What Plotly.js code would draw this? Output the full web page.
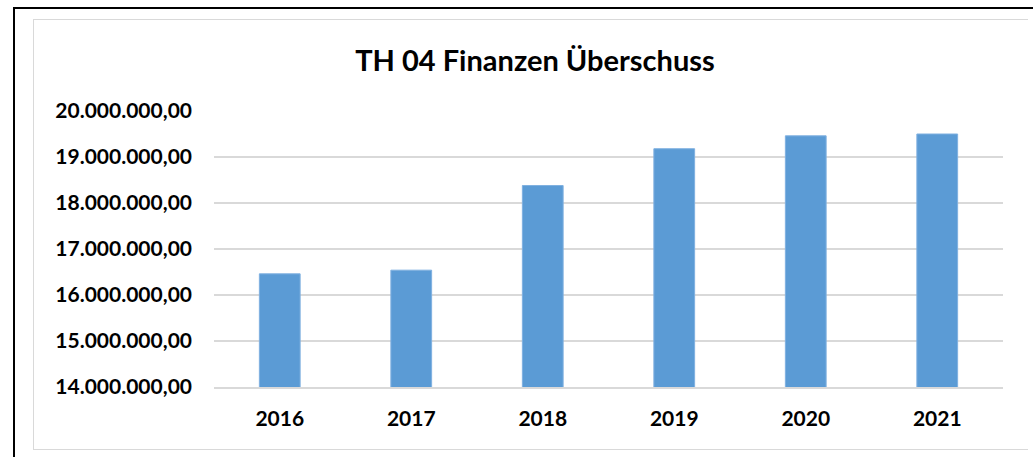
<!DOCTYPE html>
<html>
<head>
<meta charset="utf-8">
<script src="https://cdn.plot.ly/plotly-3.0.1.min.js"></script>
<style>
  html, body { margin: 0; padding: 0; background: #ffffff; }
  #wrap { position: relative; width: 1033px; height: 457px; overflow: hidden; background: #ffffff; }
  #outer { position: absolute; left: 13px; top: 7px; width: 1100px; height: 500px;
           border-left: 2.5px solid #000; border-top: 2.5px solid #000; box-sizing: border-box; }
  #inner { position: absolute; left: 33px; top: 18.5px; width: 995px; height: 431.5px;
           border-left: 1.5px solid #d9d9d9; border-top: 1.5px solid #d9d9d9; border-bottom: 1.5px solid #d9d9d9;
           box-sizing: border-box; }
  #chart { position: absolute; left: 0; top: 0; width: 1033px; height: 457px; }
</style>
</head>
<body>
<div id="wrap">
  <div id="outer"></div>
  <div id="inner"></div>
  <div id="chart"></div>
</div>
<script>
const chartTitle = "TH 04 Finanzen Überschuss";
const years = ["2016", "2017", "2018", "2019", "2020", "2021"];
const surplus = [16460000, 16540000, 18380000, 19180000, 19460000, 19500000];
const tickValues = [14000000, 15000000, 16000000, 17000000, 18000000, 19000000, 20000000];
const tickLabels = ["14.000.000,00", "15.000.000,00", "16.000.000,00", "17.000.000,00",
                    "18.000.000,00", "19.000.000,00", "20.000.000,00"];

const fontFam = "Lato, 'Open Sans', sans-serif";

const trace = {
  type: "bar",
  x: years,
  y: surplus,
  marker: { color: "#5B9BD5", line: { color: "#7FB0E0", width: 1 } },
  hoverinfo: "skip"
};

const layout = {
  width: 1033,
  height: 457,
  paper_bgcolor: "rgba(0,0,0,0)",
  plot_bgcolor: "rgba(0,0,0,0)",
  margin: { l: 214, r: 30, t: 111, b: 70, pad: 0 },
  bargap: 0.69,
  showlegend: false,
  title: {
    text: "<b>" + chartTitle + "</b>",
    font: { family: fontFam, size: 29, color: "#000000" },
    x: 535 / 1033, xanchor: "center", xref: "container",
    y: 1 - 61 / 457, yanchor: "middle", yref: "container"
  },
  xaxis: {
    type: "category",
    showgrid: false,
    showline: true,
    linecolor: "#d9d9d9",
    linewidth: 1.5,
    zeroline: false,
    ticks: "",
    ticklabelstandoff: 12,
    tickfont: { family: fontFam, size: 21, color: "#000000", weight: "bold" }
  },
  yaxis: {
    range: [14000000, 20000000],
    tickmode: "array",
    tickvals: tickValues,
    ticktext: tickLabels,
    showgrid: true,
    gridcolor: "#d9d9d9",
    gridwidth: 1.5,
    zeroline: false,
    showline: false,
    ticks: "",
    ticklabelstandoff: 21,
    tickfont: { family: fontFam, size: 21, color: "#000000", weight: "bold" }
  }
};

Plotly.newPlot("chart", [trace], layout, { staticPlot: true, displayModeBar: false });
</script>
</body>
</html>
